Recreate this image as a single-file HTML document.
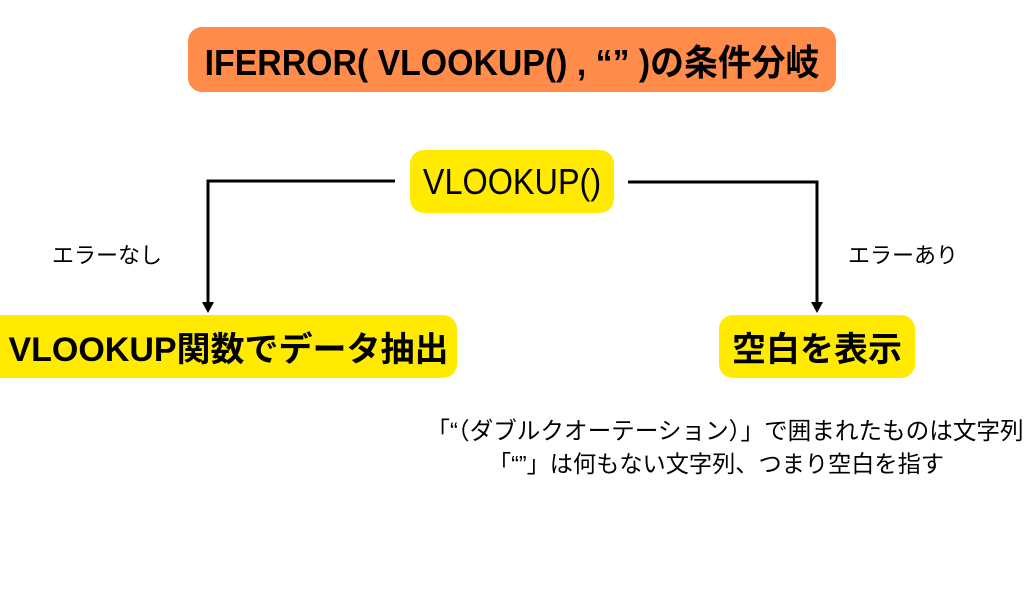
<!DOCTYPE html>
<html><head><meta charset="utf-8"><style>
body{margin:0;width:1024px;height:597px;background:#fff;position:relative;overflow:hidden;font-family:"Liberation Sans","Noto Sans CJK JP",sans-serif;color:#000}
.b{position:absolute;display:flex;align-items:center;justify-content:center;white-space:nowrap}
.t{position:absolute;white-space:nowrap}
</style></head><body>
<div class="b" style="left:188px;top:27px;width:648px;height:65px;background:#ff8c4a;border-radius:14px;font-weight:bold;font-size:36px"><span style="display:inline-block;transform:scaleX(0.94)">IFERROR( VLOOKUP() , “” )の条件分岐</span></div>
<div class="b" style="left:410px;top:150px;width:204px;height:63px;background:#ffea00;border-radius:14px;font-size:36px"><span style="display:inline-block;transform:scaleX(0.9)">VLOOKUP()</span></div>
<svg style="position:absolute;left:0;top:0" width="1024" height="597">
<polyline points="395,181 208,181 208,304" fill="none" stroke="#000" stroke-width="3"/>
<polygon points="202,302 214,302 208,313" fill="#000"/>
<polyline points="628,182 817,182 817,304" fill="none" stroke="#000" stroke-width="3"/>
<polygon points="811,302 823,302 817,313" fill="#000"/>
</svg>
<div class="b" style="left:0;top:315px;width:457px;height:63px;background:#ffea00;border-radius:0 14px 14px 0;font-weight:bold;font-size:34px">VLOOKUP関数でデータ抽出</div>
<div class="b" style="left:719px;top:315px;width:196px;height:63px;background:#ffea00;border-radius:14px;font-weight:bold;font-size:34px">空白を表示</div>
<div class="t" style="left:52px;top:238px;font-size:22px">エラーなし</div>
<div class="t" style="left:848px;top:238px;font-size:22px">エラーあり</div>
<div class="t" style="left:425px;top:412px;width:600px;text-align:center;font-size:23.6px">「“（ダブルクオーテーション）」で囲まれたものは文字列</div>
<div class="t" style="left:466px;top:445px;width:500px;text-align:center;font-size:23.2px">「“”」は何もない文字列、つまり空白を指す</div>
</body></html>
